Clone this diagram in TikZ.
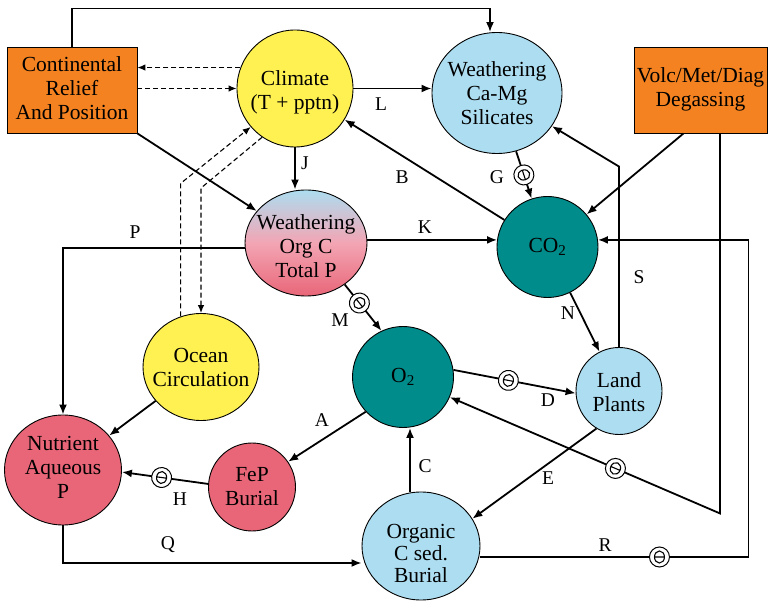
\documentclass[tikz,border=0pt]{standalone}
\usepackage{fontspec}
\setmainfont{Liberation Serif}
\usetikzlibrary{arrows.meta,shapes.geometric,calc}
\definecolor{orng}{RGB}{244,130,32}
\definecolor{ylw}{RGB}{255,241,82}
\definecolor{lblue}{RGB}{173,221,240}
\definecolor{teal2}{RGB}{0,140,138}
\definecolor{pnk}{RGB}{232,102,120}
\definecolor{pnklight}{RGB}{243,165,180}
\begin{document}
\begin{tikzpicture}[x=1pt,y=-1pt,
  bub/.style={ellipse, draw=black, line width=0.9pt, inner sep=0pt},
  obox/.style={rectangle, draw=black, line width=0.9pt, fill=orng, inner sep=0pt},
  txt/.style={align=center, font=\fontsize{21.5}{24}\selectfont, inner sep=0pt},
  lab/.style={font=\fontsize{19.5}{22}\selectfont, inner sep=0pt},
  arr/.style={-{Latex[length=10pt,width=8pt]}, line width=1.8pt},
  darr/.style={-{Latex[length=8pt,width=6.5pt]}, line width=1.1pt, dash pattern=on 5pt off 3pt},
  negsym/.pic={
    \draw[-,solid,line width=1pt,fill=white] (0,0) circle (10pt);
    \draw[-,solid,line width=1.1pt] (0,0) ellipse (5pt and 6pt) (-5pt,0pt) -- (5pt,0pt);
  }
]
\fill[white] (0,0) rectangle (769,601);
\useasboundingbox (0,0) rectangle (769,601);

% shapes
\node[obox, minimum width=130pt, minimum height=86pt] (cont) at (72,90) {};
\node[txt] (cont-t) at (72,88) {Continental\\Relief\\And Position};
\node[obox, minimum width=133pt, minimum height=86pt] (volc) at (700.5,90) {};
\node[txt] (volc-t) at (700.5,89) {Volc/Met/Diag\\Degassing};
\node[bub, fill=ylw, minimum width=116pt, minimum height=117pt] (clim) at (295,88.5) {};
\node[txt] (clim-t) at (295,92) {Climate\\(T + pptn)};
\node[bub, fill=lblue, minimum width=130pt, minimum height=121pt] (sil) at (497,93) {};
\node[txt] (sil-t) at (497,93) {Weathering\\Ca-Mg\\Silicates};
\node[bub, top color=lblue, bottom color=pnk, middle color=pnklight, minimum width=122pt, minimum height=106pt] (worg) at (306,243) {};
\node[txt] (worg-t) at (306,246) {Weathering\\Org C\\Total P};
\node[bub, fill=teal2, minimum size=101pt] (co2) at (547.5,247) {};
\node[txt] (co2-t) at (547.5,247) {CO\textsubscript{2}};
\node[bub, fill=teal2, minimum size=101pt] (o2) at (403,377) {};
\node[txt] (o2-t) at (403,377) {O\textsubscript{2}};
\node[bub, fill=lblue, minimum width=86pt, minimum height=87pt] (lp) at (619,391) {};
\node[txt] (lp-t) at (619,392) {Land\\Plants};
\node[bub, fill=ylw, minimum width=116pt, minimum height=107pt] (ocean) at (201,367) {};
\node[txt] (ocean-t) at (201,367) {Ocean\\Circulation};
\node[bub, fill=pnk, minimum width=117pt, minimum height=110pt] (nut) at (63,470) {};
\node[txt] (nut-t) at (63,467) {Nutrient\\Aqueous\\P};
\node[bub, fill=pnk, minimum width=87pt, minimum height=88pt] (fep) at (252,487) {};
\node[txt] (fep-t) at (252,487) {FeP\\Burial};
\node[bub, fill=lblue, minimum width=118pt, minimum height=108pt] (org) at (421,546) {};
\node[txt, font=\fontsize{21.5}{22}\selectfont] (org-t) at (421,553) {Organic\\C sed.\\Burial};

% connectors
\draw[arr] (cont.north) -- ++(0,-38) -| ([xshift=-7pt]sil.north);
\draw[darr] (clim.159) -- (clim.159 -| cont.east);
\draw[darr] (cont.east |- clim.west) -- (clim.west);
\draw[arr] (clim.east) -- (clim.east -| sil.west);
\draw[arr] (clim.south) -- (clim.south |- worg.north);
\draw[arr] (cont.south east) -- (worg);
\draw[arr] (co2) -- (clim);
\draw[arr] (sil) -- (co2);
\draw[arr] ([xshift=-17pt]volc.south) -- (co2);
\draw[arr] ([xshift=19.5pt]volc.south) -- ++(0,380) -- (o2);
\draw[arr] (lp.north) -- ++(0,-180.5) -- (sil);
\draw[arr] (co2) -- (lp);
\draw[arr] (o2.8) -- (lp.183);
\draw[arr] (lp.-121) -- (org.28);
\draw[arr] ([xshift=-11pt]org.north) -- ([xshift=7pt]o2.south);
\draw[arr] (o2.223) -- (fep.35);
\draw[arr] (fep.176) -- (nut.-2);
\draw[arr] (nut.south) |- ([yshift=-17pt]org.west);
\draw[arr] ([yshift=-11pt]org.east) -- ++(268,0) |- (co2.8);
\draw[arr] (worg.185) -| (nut.north);
\draw[arr] (co2.172 -| worg.east) -- (co2.172);
\draw[arr] (worg.-47) -- (o2.115);
\draw[arr] (ocean) -- (nut);
\draw[darr] (ocean.112) -- ++(0,-133) -- (clim.221);
\draw[darr] (clim.236) -- ([yshift=125pt]ocean.north) -- (ocean.north);

% negative-feedback symbols
\path (sil) -- (co2) pic[pos=.5,sloped]{negsym};
\path (o2.8) -- (lp.183) pic[pos=.45,sloped]{negsym};
\path (worg.-47) -- (o2.115) pic[pos=.4,sloped]{negsym};
\path (fep.176) -- (nut.-2) pic[pos=.54,sloped]{negsym};
\path ([xshift=19.5pt]volc.south) ++(0,380) -- (o2) pic[pos=.387,sloped]{negsym};
\path ([yshift=-11pt]org.east) -- ++(268,0) pic[pos=.668,sloped]{negsym};

% labels
\node[lab] (lL) at (381,104) {L};
\node[lab] (lB) at (402,177) {B};
\node[lab] (lG) at (497,177) {G};
\node[lab] (lJ) at (305,163) {J};
\node[lab] (lK) at (425,227) {K};
\node[lab] (lP) at (135,232) {P};
\node[lab] (lM) at (340,320) {M};
\node[lab] (lN) at (568,313) {N};
\node[lab] (lS) at (639,277) {S};
\node[lab] (lD) at (548,400) {D};
\node[lab] (lA) at (322,420) {A};
\node[lab] (lC) at (425,466) {C};
\node[lab] (lE) at (548,478) {E};
\node[lab] (lH) at (180,499) {H};
\node[lab] (lQ) at (168,545) {Q};
\node[lab] (lR) at (605,545) {R};
\end{tikzpicture}
\end{document}
